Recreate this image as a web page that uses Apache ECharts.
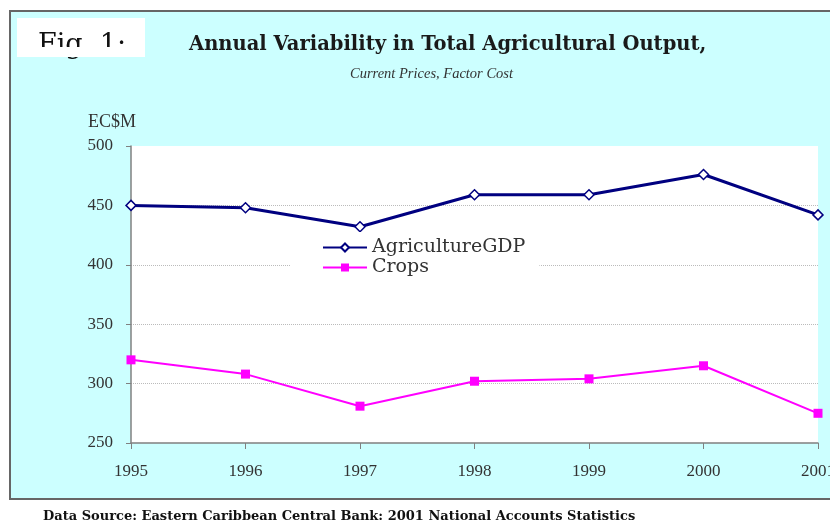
<!DOCTYPE html>
<html>
<head>
<meta charset="utf-8">
<script src="https://cdn.jsdelivr.net/npm/echarts@6/dist/echarts.min.js"></script>
<style>
  html, body { margin: 0; padding: 0; background: #fff; }
  #chart { width: 830px; height: 523px; }
</style>
</head>
<body>
<div id="chart"></div>
<script>
const years = ["1995", "1996", "1997", "1998", "1999", "2000", "2001"];
const agricultureGdp = [450, 448, 432, 459, 459, 476, 442];
const crops = [320, 308, 281, 302, 304, 315, 275];

const chart = echarts.init(document.getElementById("chart"));
const serif = "Liberation Serif, Times New Roman, serif";
const wideSerif = "DejaVu Serif, serif";

const option = {
    backgroundColor: "#fff",
    animation: false,
    title: [
        {
            text: "Annual Variability in Total Agricultural Output,",
            left: 184, top: 30,
            textStyle: { fontFamily: wideSerif, fontSize: 19.5, fontWeight: "bold", color: "#1a1a1a" }
        },
        {
            text: "Current Prices, Factor Cost",
            left: 345, top: 62,
            textStyle: { fontFamily: serif, fontSize: 14.5, fontStyle: "italic", fontWeight: "normal", color: "#333" }
        }
    ],
    graphic: [
        // cyan panel
        { type: "rect", z: -10, shape: { x: 10, y: 11, width: 830, height: 488 },
          style: { fill: "#ccffff", stroke: "#666", lineWidth: 2 } },
        // Fig. 1 box, text cut off at the bottom
        { type: "rect", z: -5, shape: { x: 17, y: 18, width: 128, height: 39 }, style: { fill: "#fff" } },
        { type: "text", z: -4, left: 38, top: 32,
          style: { text: "Fig. 1:", font: "27px " + wideSerif, fill: "#111" } },
        { type: "rect", z: -3, shape: { x: 17, y: 47, width: 128, height: 10 }, style: { fill: "#fff" } },
        { type: "text", left: 88, top: 113,
          style: { text: "EC$M", font: "18px " + serif, fill: "#333" } },
        { type: "text", left: 43, top: 510,
          style: { text: "Data Source: Eastern Caribbean Central Bank: 2001 National Accounts Statistics",
                   font: "bold 13px " + wideSerif, fill: "#111" } }
    ],
    grid: {
        left: 131, right: 12, top: 146, bottom: 80,
        outerBoundsMode: "none",
        show: true, backgroundColor: "#fff", borderWidth: 0
    },
    legend: {
        orient: "vertical",
        left: 290, top: 232,
        padding: [6, 14, 6, 32],
        itemWidth: 44, itemHeight: 10, itemGap: 1,
        backgroundColor: "#fff",
        textStyle: { fontFamily: wideSerif, fontSize: 19, color: "#333" },
        data: ["AgricultureGDP", "Crops"]
    },
    xAxis: {
        type: "category",
        data: years,
        boundaryGap: false,
        axisLine: { lineStyle: { color: "#808080", width: 1.5 } },
        axisTick: { show: true, length: 6, lineStyle: { color: "#808080" } },
        axisLabel: { margin: 20, fontFamily: serif, fontSize: 17, color: "#333" },
        splitLine: { show: false }
    },
    yAxis: {
        type: "value",
        min: 250, max: 500, interval: 50,
        axisLine: { show: true, lineStyle: { color: "#808080", width: 1.5 } },
        axisTick: { show: true, length: 5, lineStyle: { color: "#808080" } },
        axisLabel: { margin: 18, fontFamily: serif, fontSize: 17, color: "#333" },
        splitLine: {
            show: true, showMinLine: false, showMaxLine: false,
            lineStyle: { color: "#bbb", type: "dotted", width: 1 }
        }
    },
    series: [
        {
            name: "AgricultureGDP",
            type: "line",
            data: agricultureGdp,
            symbol: "diamond", symbolSize: 10, showAllSymbol: true,
            lineStyle: { color: "#000080", width: 3 },
            itemStyle: { color: "#fff", borderColor: "#000080", borderWidth: 1.5 },
            z: 3
        },
        {
            name: "Crops",
            type: "line",
            data: crops,
            symbol: "rect", symbolSize: 9, showAllSymbol: true,
            lineStyle: { color: "#ff00ff", width: 2 },
            itemStyle: { color: "#ff00ff" },
            z: 3
        }
    ]
};

chart.setOption(option);
</script>
</body>
</html>
